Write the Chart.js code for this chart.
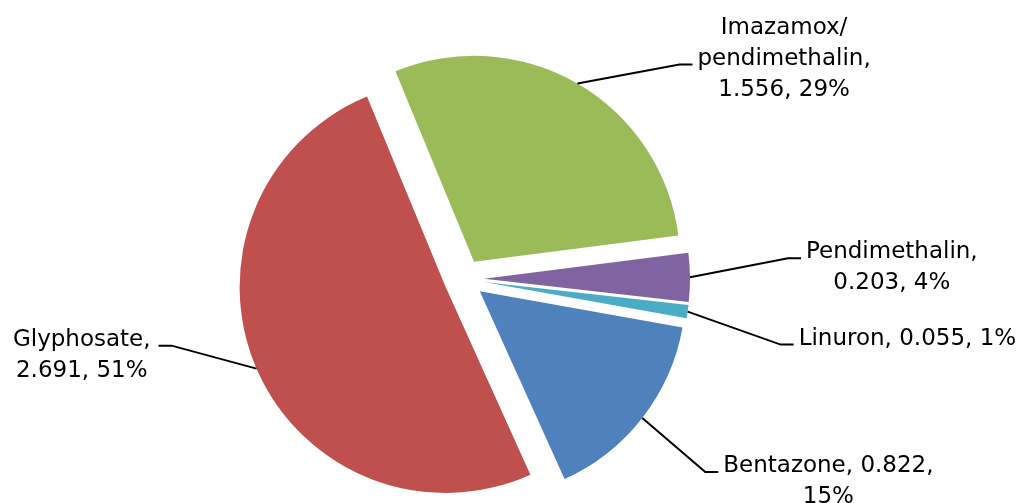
<!DOCTYPE html>
<html>
<head>
<meta charset="utf-8">
<script src="https://cdn.jsdelivr.net/npm/chart.js@4"></script>
<style>
  html, body { margin: 0; padding: 0; background: #fff; }
  #wrap { width: 1021px; height: 503px; }
</style>
</head>
<body>
<div id="wrap"><canvas id="pie" width="1021" height="503"></canvas></div>
<script>
const categories = ['Glyphosate', 'Imazamox/pendimethalin', 'Pendimethalin', 'Linuron', 'Bentazone'];
const values = [2.691, 1.556, 0.203, 0.055, 0.822];
const colors = ['#C0504D', '#9BBB59', '#8064A2', '#4BACC6', '#4F81BD'];

// where each data label sits, relative to where its leader leaves the slice
const labelLayout = [
    { dx: -85, dy: -23, side: 'left', wrap: 150 },
    { dx: 102, dy: -19, side: 'right', wrap: 190 },
    { dx: 98, dy: -19, side: 'right', wrap: 190 },
    { dx: 93, dy: 33, side: 'right', wrap: 240 },
    { dx: 63, dy: 54, side: 'right', wrap: 220 }
];

const EXPLODE = 20;
const FONT = "23px 'DejaVu Sans'";
const LINE_H = 31;

const total = values.reduce((a, b) => a + b, 0);

function labelText(i) {
    const pct = Math.round(values[i] / total * 100);
    return `${categories[i]}, ${values[i].toFixed(3)}, ${pct}%`;
}

function wrapText(ctx, text, maxWidth) {
    // split on spaces, and also allow a break right after a slash
    const tokens = [];
    text.split(' ').forEach((word, wi) => {
        const parts = word.split('/');
        parts.forEach((p, pi) => {
            const t = pi < parts.length - 1 ? p + '/' : p;
            if (t) tokens.push({ t, sep: (pi === 0 && wi > 0) ? ' ' : '' });
        });
    });
    const lines = [];
    let cur = '';
    tokens.forEach(tok => {
        const trial = cur ? cur + tok.sep + tok.t : tok.t;
        if (cur && ctx.measureText(trial).width > maxWidth) {
            lines.push(cur);
            cur = tok.t;
        } else {
            cur = trial;
        }
    });
    if (cur) lines.push(cur);
    return lines;
}

// draws every slice pulled out along its mid angle, like an exploded Excel pie
const explodePlugin = {
    id: 'explode',
    beforeDatasetDraw(chart, args) {
        const ctx = chart.ctx;
        args.meta.data.forEach(arc => {
            const mid = (arc.startAngle + arc.endAngle) / 2;
            ctx.save();
            ctx.translate(Math.cos(mid) * EXPLODE, Math.sin(mid) * EXPLODE);
            arc.draw(ctx);
            ctx.restore();
        });
        return false;
    }
};

const leaderLabels = {
    id: 'leaderLabels',
    afterDatasetsDraw(chart) {
        const ctx = chart.ctx;
        const meta = chart.getDatasetMeta(0);
        ctx.save();
        ctx.font = FONT;
        ctx.fillStyle = '#000';
        ctx.strokeStyle = '#000';
        ctx.lineWidth = 2;
        meta.data.forEach((arc, i) => {
            const lay = labelLayout[i];
            const mid = (arc.startAngle + arc.endAngle) / 2;
            const r = arc.outerRadius + EXPLODE;
            const sx = arc.x + Math.cos(mid) * r;
            const sy = arc.y + Math.sin(mid) * r;
            const ex = sx + lay.dx;
            const ey = sy + lay.dy;
            const dir = lay.side === 'right' ? 1 : -1;
            const hx = ex + dir * 13;

            ctx.beginPath();
            ctx.moveTo(sx, sy);
            ctx.lineTo(ex, ey);
            ctx.lineTo(hx, ey);
            ctx.stroke();

            const lines = wrapText(ctx, labelText(i), lay.wrap);
            const blockW = Math.max(...lines.map(l => ctx.measureText(l).width));
            const gap = lay.side === 'right' ? 5 : 8;
            const left = lay.side === 'right' ? hx + gap : hx - gap - blockW;
            const cx = left + blockW / 2;
            const firstBase = ey - Math.floor((lines.length - 1) / 2) * LINE_H;
            ctx.textAlign = 'center';
            ctx.textBaseline = 'alphabetic';
            lines.forEach((l, k) => ctx.fillText(l, cx, firstBase + k * LINE_H));
        });
        ctx.restore();
    }
};

new Chart(document.getElementById('pie').getContext('2d'), {
    type: 'pie',
    data: {
        labels: categories,
        datasets: [{
            data: values,
            backgroundColor: colors,
            borderWidth: 0,
            radius: 206
        }]
    },
    options: {
        responsive: false,
        animation: false,
        events: [],
        rotation: 155.7,
        layout: { padding: { left: 0, right: 93, top: 55, bottom: 0 } },
        plugins: {
            legend: { display: false },
            tooltip: { enabled: false }
        }
    },
    plugins: [explodePlugin, leaderLabels]
});
</script>
</body>
</html>
